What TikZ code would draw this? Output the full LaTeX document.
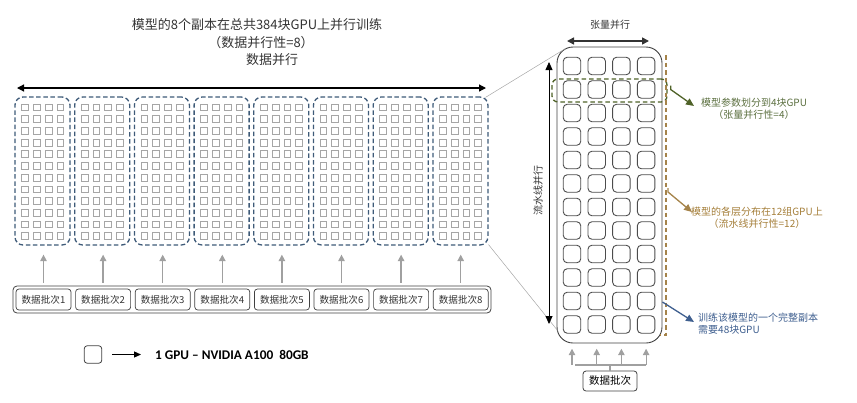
\documentclass[tikz,border=0pt]{standalone}
\usepackage{fontspec}
\setmainfont{Noto Sans CJK SC}
\newfontfamily\legfont{Carlito}
\usetikzlibrary{arrows.meta,calc}
\definecolor{grpblue}{HTML}{3E5A78}
\definecolor{gpugray}{HTML}{A6A6A6}
\definecolor{pgreen}{HTML}{4F6228}
\definecolor{pgreentxt}{HTML}{5C7040}
\definecolor{pbrown}{HTML}{A5834A}
\definecolor{pbrowntxt}{HTML}{A57F3A}
\definecolor{pblue}{HTML}{3F5F8F}
\definecolor{agray}{HTML}{A0A0A0}
\definecolor{txtgray}{HTML}{333333}
\begin{document}
\begin{tikzpicture}[x=1pt,y=-1pt,
  smallgpu/.style={draw=gpugray,line width=0.6pt,minimum size=6.8pt,inner sep=0pt},
  grpbox/.style={draw=grpblue,line width=1.3pt,dash pattern=on 4.5pt off 2.6pt,rounded corners=8pt,minimum width=55pt,minimum height=148pt,inner sep=0pt},
  batchbox/.style={draw=black!75,line width=0.7pt,rounded corners=3pt,minimum width=55pt,minimum height=21pt,inner sep=0pt,font=\fontsize{9.6}{11}\selectfont,text=txtgray},
  biggpu/.style={draw=black!70,line width=0.9pt,rounded corners=4pt,minimum size=17.5pt,inner sep=0pt},
  uparrow/.style={draw=agray,line width=1.3pt,-{Triangle[length=6.5pt,width=6.5pt]}},
  blkarrow/.style={draw=black,line width=1.2pt},
  lbl/.style={font=\fontsize{13}{15}\selectfont,text=txtgray,inner sep=0pt},
  note/.style={font=\fontsize{10}{12}\selectfont,inner sep=0pt,align=center}
]
\useasboundingbox (0,0) rectangle (857,402);

% titles
\node[lbl] (title1) at (257,25) {模型的8个副本在总共384块GPU上并行训练};
\node[lbl] (title2) at (261,43) {（数据并行性=8）};
\node[lbl] (title3) at (272,60) {数据并行};

% data parallel arrow
\coordinate (dpL) at (17,88);
\coordinate (dpR) at (486,88);
\draw[blkarrow,{Triangle[length=7pt,width=7pt]}-{Triangle[length=7pt,width=7pt]}] (dpL) -- (dpR);

% groups
\foreach \i in {1,...,8}{
  \pgfmathsetmacro{\cx}{42.5+(\i-1)*59.7}
  \node[grpbox] (grp\i) at (\cx,171) {};
  \foreach \r in {0,...,11}{
    \foreach \c in {0,...,3}{
      \node[smallgpu] (s\i-\r-\c) at ({\cx-17.7+\c*11.8},{107.3+\r*11.7}) {};
    }
  }
}

% batches
\node[draw=black!75,line width=0.8pt,rounded corners=4pt,minimum width=478pt,minimum height=27pt,inner sep=0pt] (batches) at (252,299.5) {};
\foreach \i in {1,...,8}{
  \pgfmathsetmacro{\cx}{43.5+(\i-1)*59.6}
  \node[batchbox] (b\i) at (\cx,299.5) {数据批次\i};
  \draw[uparrow] ($(b\i.north|-batches.north)+(0,-3)$) -- ($(b\i.north|-grp\i.south)+(0,9)$);
}

% legend
\node[draw=black!75,line width=0.8pt,rounded corners=3pt,minimum size=17.5pt,inner sep=0pt] (leg) at (93,354.5) {};
\node[anchor=west,inner sep=0pt,font=\legfont\bfseries\fontsize{13.3}{15}\selectfont] (legtxt) at (155,354.5) {1 GPU – NVIDIA A100\ \ 80GB};
\draw[blkarrow,-{Triangle[length=7pt,width=6pt]}] ($(leg.east)+(10,0)$) -- ($(legtxt.west)+(-14,0)$);

% big model replica
\node[draw=black!75,line width=0.9pt,rounded corners=16pt,minimum width=105pt,minimum height=296pt,inner sep=0pt] (big) at (609.5,195) {};
\foreach \r in {0,...,11}{
  \foreach \c in {0,...,3}{
    \node[biggpu] (m-\r-\c) at ({572+\c*24.7},{66+\r*23.5}) {};
  }
}

% zoom lines
\draw[gray!70,line width=0.5pt] ($(grp8.north east)+(-3,1)$) -- ($(big.north west)+(9,2)$);
\draw[gray!70,line width=0.5pt] ($(grp8.south east)+(0,-1)$) -- ($(big.south west)+(1,-13)$);

% tensor parallel
\node[note,text=txtgray] (tplbl) at (610,25) {张量并行};
\coordinate (tpL) at (567,41);
\coordinate (tpR) at (649,41);
\draw[line width=1.6pt,draw=black!80,{Triangle[length=7pt,width=7pt]}-{Triangle[length=7pt,width=7pt]}] (tpL) -- (tpR);

% pipeline parallel
\coordinate (ppT) at (549,62);
\coordinate (ppB) at (549,324);
\draw[line width=0.8pt,{Triangle[length=8pt,width=7pt]}-{Triangle[length=8pt,width=7pt]}] (ppT) -- (ppB);
\node[note,text=txtgray,rotate=90] (pplbl) at (538,190) {流水线并行};

% green dashed row
\node[draw=pgreen,line width=1.3pt,dash pattern=on 4.5pt off 3pt,rounded corners=6pt,minimum width=115pt,minimum height=23pt,inner sep=0pt] (row) at (609.5,90.5) {};
\node[note,text=pgreentxt] (gtxt) at (754,109) {模型参数划分到4块GPU\\（张量并行性=4）};
\draw[pgreen,line width=1.3pt,-{Triangle[length=8pt,width=7pt]}] ($(row.east)+(3,-5)$) -- ($(row.east)+(3,-1)$) -- (694,106);

% brown dashed bracket
\coordinate (brT) at (666,55);
\coordinate (brB) at (666,335);
\coordinate (brBL) at (660,335);
\draw[pbrown,line width=1.3pt,dash pattern=on 4.5pt off 3pt] (brT) -- (brB) -- (brBL);
\node[note,text=pbrowntxt] (btxt) at (757,217.5) {模型的各层分布在12组GPU上\\（流水线并行性=12）};
\draw[pbrown,line width=1.3pt,-{Triangle[length=8pt,width=7pt]}] (668,188) -- (668,192) -- (692,212);

% blue note
\node[note,text=pblue,align=left,anchor=north west] (ntxt) at (698,313) {训练该模型的一个完整副本\\需要48块GPU};
\draw[pblue,line width=1.3pt,-{Triangle[length=8pt,width=7pt]}] ($(big.east)+(0,107)$) -- (694,322);

% bottom batch
\node[draw=black!75,line width=0.8pt,rounded corners=3pt,minimum width=54pt,minimum height=20pt,inner sep=0pt,font=\fontsize{10.5}{12}\selectfont] (rb) at (610,381) {数据批次};
\coordinate (bus) at (610,365);
\draw[agray,line width=1.2pt] (rb.north) -- (bus);
\draw[agray,line width=1.2pt] (575,365) -- (646,365);
\foreach \c in {0,...,3}{
  \draw[uparrow,line width=1.2pt] (m-11-\c.south|-bus) -- ($(m-11-\c.south)+(0,15)$);
}
\end{tikzpicture}
\end{document}
